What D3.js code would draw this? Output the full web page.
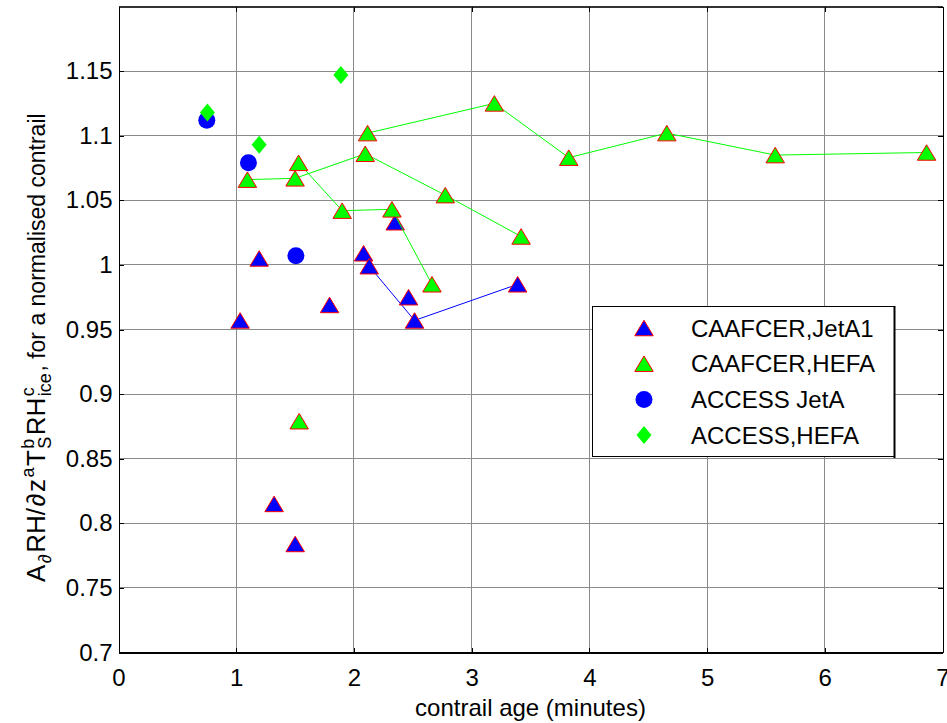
<!DOCTYPE html>
<html>
<head>
<meta charset="utf-8">
<script src="https://cdn.jsdelivr.net/npm/d3@7"></script>
<style>
  html, body { margin: 0; padding: 0; background: #fff; }
  svg { display: block; font-family: "Liberation Sans", Arial, Helvetica, sans-serif; }
  text { white-space: pre; }
</style>
</head>
<body>
<svg id="chart" width="947" height="723"></svg>
<script>
// [contrail age (minutes), normalised value]
const jetA1Points = [[1.033, 0.957], [1.195, 1.005], [1.322, 0.815], [1.501, 0.784],
                     [1.793, 0.969], [2.082, 1.009], [2.351, 1.033], [2.464, 0.975]];
const jetA1Track  = [[2.13, 0.999], [2.515, 0.957], [3.391, 0.985]];
const hefaPoints  = [[1.535, 0.879]];
const hefaTrackA  = [[1.095, 1.066], [1.50, 1.067], [2.096, 1.086], [2.776, 1.054], [3.42, 1.022]];
const hefaTrackB  = [[1.53, 1.079], [1.90, 1.042], [2.323, 1.043], [2.663, 0.985]];
const hefaTrackC  = [[2.116, 1.102], [3.193, 1.125], [3.825, 1.083], [4.658, 1.102],
                     [5.579, 1.085], [6.865, 1.087]];
const accessJetA  = [[0.75, 1.112], [1.104, 1.079], [1.507, 1.007]];
const accessHefa  = [[0.755, 1.118], [1.195, 1.093], [1.889, 1.147]];

const xTicks = [0, 1, 2, 3, 4, 5, 6, 7];
const yTicks = [0.7, 0.75, 0.8, 0.85, 0.9, 0.95, 1, 1.05, 1.1, 1.15, 1.2];
const yTickLabels = ["0.7", "0.75", "0.8", "0.85", "0.9", "0.95", "1", "1.05", "1.1", "1.15", ""];
const legendLabels = ["CAAFCER,JetA1", "CAAFCER,HEFA", "ACCESS JetA", "ACCESS,HEFA"];

const svg = d3.select("#chart");
const plot = { left: 118.5, right: 942.5, top: 6.5, bottom: 652.5 };

const x = d3.scaleLinear().domain([0, 7]).range([plot.left, plot.right]);
const y = d3.scaleLinear().domain([0.7, 1.2]).range([plot.bottom, plot.top]);

const BLUE = "#0000ff", GREEN = "#00ff00", RED = "#ff0000";

// grid
const grid = svg.append("g").attr("stroke", "#8a8a8a").attr("stroke-width", 1)
  .attr("shape-rendering", "crispEdges");
grid.selectAll(".gx").data(xTicks.slice(1, -1)).join("line")
  .attr("x1", d => x(d)).attr("x2", d => x(d))
  .attr("y1", plot.top).attr("y2", plot.bottom);
grid.selectAll(".gy").data(yTicks.slice(1, -1)).join("line")
  .attr("x1", plot.left).attr("x2", plot.right)
  .attr("y1", d => y(d)).attr("y2", d => y(d));

// axes (ticks point inwards)
const fontPx = 24;
const axL = svg.append("g").attr("transform", `translate(${plot.left},0)`)
  .call(d3.axisLeft(y).tickValues(yTicks).tickSizeInner(-5).tickSizeOuter(0).tickPadding(6)
    .tickFormat((d, i) => yTickLabels[i]));
const axB = svg.append("g").attr("transform", `translate(0,${plot.bottom})`)
  .call(d3.axisBottom(x).tickValues(xTicks).tickSizeInner(-5).tickSizeOuter(0).tickPadding(16)
    .tickFormat(d3.format("d")));
const axT = svg.append("g").attr("transform", `translate(0,${plot.top})`)
  .call(d3.axisTop(x).tickValues(xTicks).tickSizeInner(-5).tickSizeOuter(0).tickFormat(""));
const axR = svg.append("g").attr("transform", `translate(${plot.right},0)`)
  .call(d3.axisRight(y).tickValues(yTicks).tickSizeInner(-5).tickSizeOuter(0).tickFormat(""));

[axL, axB, axT, axR].forEach(a => {
  a.attr("font-family", null).attr("font-size", fontPx);
  a.selectAll("text").attr("fill", "#000");
  a.selectAll("line, path").attr("stroke", "#000").attr("shape-rendering", "crispEdges");
});
axB.select(".domain").attr("stroke-width", 2);
axT.select(".domain").attr("stroke", "#333").attr("stroke-width", 2);

// x label
svg.append("text").attr("x", (plot.left + plot.right) / 2).attr("y", 716)
  .attr("text-anchor", "middle").attr("font-size", fontPx).text("contrail age (minutes)");

// y label with sub/superscripts, laid out piece by piece from its start at the bottom
const yl = svg.append("g").attr("transform", "translate(45,582) rotate(-90)");
const segs = [
  { t: "A", m: 1 }, { t: "∂", s: "sub", m: 1 }, { t: "RH/", m: 1 }, { t: "∂", m: 1 }, { t: "z", m: 1 },
  { t: "a", s: "sup", m: 1 },
  { t: "T", m: 1 }, { t: "S", s: "sub", m: 1 }, { t: "b", s: "sup", stack: true, m: 1 },
  { t: "RH", m: 1 }, { t: "ice", s: "sub", m: 1 }, { t: "c", s: "sup", stack: true, m: 1 },
  { t: ", for a normalised contrail" }
];
const mathGap = 1.5;
let cur = 0, lastStart = 0, lastW = 0;
segs.forEach(sg => {
  const small = sg.s === "sub" || sg.s === "sup";
  const size = sg.m ? (small ? 18 : 26) : 23;
  const el = yl.append("text").text(sg.t)
    .attr("font-size", size)
    .attr("y", sg.s === "sub" ? 6 : sg.s === "sup" ? -11 : 0);
  const w = el.node().getComputedTextLength();
  const gap = sg.m ? mathGap : 0;
  if (sg.stack) {
    el.attr("x", lastStart);
    cur = lastStart + Math.max(w, lastW) + gap;
  } else {
    el.attr("x", cur);
    lastStart = cur; lastW = w; cur += w + gap;
  }
});

// markers
const triPath = (w, h) => `M0,${-h / 2}L${w / 2},${h / 2}L${-w / 2},${h / 2}Z`;
const diaPath = (w, h) => `M0,${-h / 2}L${w / 2},0L0,${h / 2}L${-w / 2},0Z`;
const line = d3.line().x(d => x(d[0])).y(d => y(d[1]));

function triangles(data, fill) {
  svg.append("g").selectAll("path").data(data).join("path")
    .attr("transform", d => `translate(${x(d[0])},${y(d[1])})`)
    .attr("d", triPath(18.5, 15.5))
    .attr("fill", fill).attr("stroke", RED).attr("stroke-width", 1);
}

// CAAFCER JetA1
svg.append("path").datum(jetA1Track).attr("d", line)
  .attr("fill", "none").attr("stroke", BLUE).attr("stroke-width", 1);
triangles(jetA1Points.concat(jetA1Track), BLUE);

// CAAFCER HEFA
[hefaTrackA, hefaTrackB, hefaTrackC].forEach(t => {
  svg.append("path").datum(t).attr("d", line)
    .attr("fill", "none").attr("stroke", GREEN).attr("stroke-width", 1);
});
triangles(hefaPoints.concat(hefaTrackA, hefaTrackB, hefaTrackC), GREEN);

// ACCESS JetA
svg.append("g").selectAll("circle").data(accessJetA).join("circle")
  .attr("cx", d => x(d[0])).attr("cy", d => y(d[1])).attr("r", 8.5)
  .attr("fill", BLUE);

// ACCESS HEFA
svg.append("g").selectAll("path").data(accessHefa).join("path")
  .attr("transform", d => `translate(${x(d[0])},${y(d[1])})`)
  .attr("d", diaPath(15, 18)).attr("fill", GREEN);

// legend
const lg = svg.append("g");
lg.append("rect").attr("x", 592.5).attr("y", 306.5).attr("width", 302).attr("height", 150)
  .attr("fill", "#fff").attr("stroke", "#000").attr("stroke-width", 1)
  .attr("shape-rendering", "crispEdges");
lg.append("line").attr("x1", 894.5).attr("x2", 894.5).attr("y1", 306).attr("y2", 458)
  .attr("stroke", "#000").attr("stroke-width", 2);
const rows = lg.selectAll(".row").data(legendLabels).join("g")
  .attr("transform", (d, i) => `translate(0,${328 + i * 35.7})`);
rows.append("text").attr("x", 691).attr("dy", "0.36em").attr("font-size", fontPx).text(d => d);
rows.each(function (d, i) {
  const g = d3.select(this);
  if (i === 0) g.append("path").attr("transform", "translate(644,0)").attr("d", triPath(18.5, 15.5))
    .attr("fill", BLUE).attr("stroke", RED);
  if (i === 1) g.append("path").attr("transform", "translate(644,0)").attr("d", triPath(18.5, 15.5))
    .attr("fill", GREEN).attr("stroke", RED);
  if (i === 2) g.append("circle").attr("cx", 644).attr("r", 8.5).attr("fill", BLUE);
  if (i === 3) g.append("path").attr("transform", "translate(644,0)").attr("d", diaPath(15, 18))
    .attr("fill", GREEN);
});
</script>
</body>
</html>
